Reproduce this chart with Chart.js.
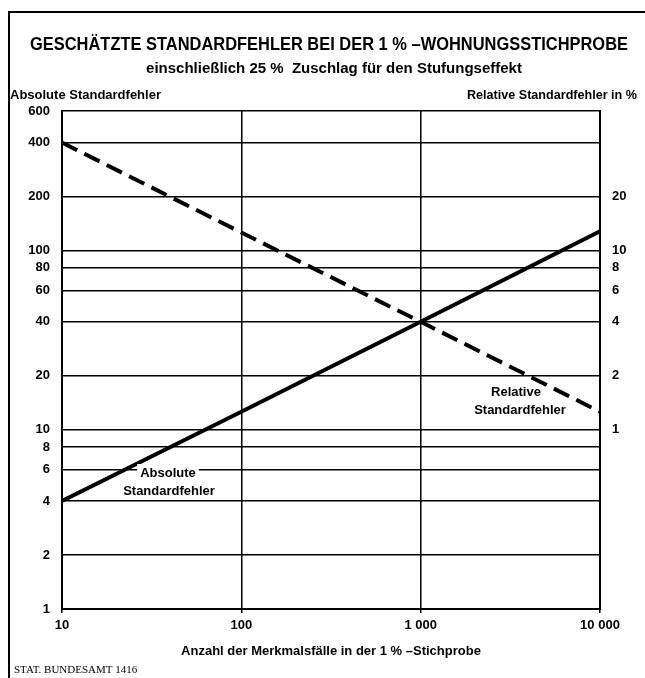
<!DOCTYPE html>
<html>
<head>
<meta charset="utf-8">
<script src="https://cdn.jsdelivr.net/npm/chart.js@4.4.1/dist/chart.umd.min.js"></script>
<style>
  html, body { margin: 0; padding: 0; background: #fff; }
  #wrap { width: 645px; height: 678px; }
</style>
</head>
<body>
<div id="wrap"><canvas id="chart" width="645" height="678"></canvas></div>
<script>
// data (log-log chart)
const sampleSizes = [10, 100, 1000, 10000];
const absoluteErr = [4, 12.6, 40, 128];        // left axis
const relativeErrPct = [40, 12.6, 4, 1.26];    // right axis, in %

const xTicks = [10, 100, 1000, 10000];
const xTickLabels = ['10', '100', '1 000', '10 000'];
const yTicks = [1, 2, 4, 6, 8, 10, 20, 40, 60, 80, 100, 200, 400, 600];
const y2Ticks = [1, 2, 4, 6, 8, 10, 20];

const FONT = '"Liberation Sans", Arial, sans-serif';

// squeeze text into a given width (the original uses a narrow font)
function fitText(ctx, text, x, y, width, size, align) {
    ctx.save();
    ctx.font = 'bold ' + size + 'px ' + FONT;
    const w = ctx.measureText(text).width;
    const s = Math.min(1, width / w);
    let left = x;
    if (align === 'center') left = x - w * s / 2;
    if (align === 'right') left = x - w * s;
    ctx.translate(left, y);
    ctx.scale(s, 1);
    ctx.textAlign = 'left';
    ctx.textBaseline = 'middle';
    ctx.fillText(text, 0, 0);
    ctx.restore();
    return w * s;
}

const decoration = {
    id: 'decoration',
    beforeDraw(chart) {
        const ctx = chart.ctx;
        ctx.save();
        ctx.fillStyle = '#fff';
        ctx.fillRect(0, 0, chart.width, chart.height);
        // outer frame (top + left)
        ctx.strokeStyle = '#000';
        ctx.lineWidth = 2;
        ctx.beginPath();
        ctx.moveTo(645, 12);
        ctx.lineTo(9, 12);
        ctx.lineTo(9, 678);
        ctx.stroke();
        ctx.fillStyle = '#000';
        fitText(ctx, 'GESCHÄTZTE STANDARDFEHLER BEI DER 1 % –WOHNUNGSSTICHPROBE', 329, 45, 598, 18, 'center');
        fitText(ctx, 'einschließlich 25 %  Zuschlag für den Stufungseffekt', 334, 69, 395, 15, 'center');
        fitText(ctx, 'Absolute Standardfehler', 10, 95, 152, 13, 'left');
        fitText(ctx, 'Relative Standardfehler in %', 637, 95, 170, 13, 'right');
        fitText(ctx, 'Anzahl der Merkmalsfälle in der 1 % –Stichprobe', 331, 651, 318, 13, 'center');
        ctx.font = '11px "Liberation Serif", serif';
        ctx.textBaseline = 'middle';
        ctx.fillText('STAT. BUNDESAMT 1416', 14, 670);
        ctx.restore();
    },
    afterDatasetsDraw(chart) {
        const ctx = chart.ctx;
        const a = chart.chartArea;
        ctx.save();
        // label for the solid line, knocks out the grid line behind it
        ctx.font = 'bold 13px ' + FONT;
        const w1 = ctx.measureText('Absolute').width;
        ctx.fillStyle = '#fff';
        ctx.fillRect(a.left + 106 - w1 / 2 - 3, 464, w1 + 6, 16);
        ctx.fillStyle = '#000';
        fitText(ctx, 'Absolute', a.left + 106, 473, 56, 13, 'center');
        fitText(ctx, 'Standardfehler', a.left + 107, 491, 104, 13, 'center');
        fitText(ctx, 'Relative', a.left + 454, 392, 63, 13, 'center');
        fitText(ctx, 'Standardfehler', a.left + 458, 410, 106, 13, 'center');
        ctx.restore();
    }
};

const tickFont = { family: FONT, size: 13, weight: 'bold' };

new Chart(document.getElementById('chart').getContext('2d'), {
    type: 'scatter',
    data: {
        datasets: [{
            label: 'Absolute Standardfehler',
            data: sampleSizes.map((n, i) => ({ x: n, y: absoluteErr[i] })),
            yAxisID: 'y',
            showLine: true,
            borderColor: '#000',
            borderWidth: 4,
            pointRadius: 0,
            tension: 0
        }, {
            label: 'Relative Standardfehler',
            data: sampleSizes.map((n, i) => ({ x: n, y: relativeErrPct[i] })),
            yAxisID: 'y2',
            showLine: true,
            borderColor: '#000',
            borderWidth: 4,
            borderDash: [17, 8],
            pointRadius: 0,
            tension: 0
        }]
    },
    options: {
        responsive: false,
        animation: false,
        layout: { padding: { top: 111, left: 0, right: 0, bottom: 0 } },
        plugins: {
            legend: { display: false },
            tooltip: { enabled: false }
        },
        scales: {
            x: {
                type: 'logarithmic',
                min: 10,
                max: 10000,
                afterBuildTicks: s => { s.ticks = xTicks.map(v => ({ value: v })); },
                afterFit: s => { s.height = 69; },
                ticks: {
                    color: '#000',
                    font: tickFont,
                    padding: 5,
                    maxRotation: 0,
                    autoSkip: false,
                    callback: (v) => xTickLabels[xTicks.indexOf(v)]
                },
                grid: { color: '#000', lineWidth: 1.5, tickLength: 4 },
                border: { color: '#000', width: 2 }
            },
            y: {
                type: 'logarithmic',
                position: 'left',
                min: 1,
                max: 600,
                afterBuildTicks: s => { s.ticks = yTicks.map(v => ({ value: v })); },
                afterFit: s => { s.width = 62; },
                ticks: {
                    color: '#000',
                    font: tickFont,
                    padding: 12,
                    autoSkip: false,
                    callback: v => String(v)
                },
                grid: { color: '#000', lineWidth: 1.5, drawTicks: false },
                border: { color: '#000', width: 2 }
            },
            y2: {
                type: 'logarithmic',
                position: 'right',
                min: 0.1,
                max: 60,
                afterBuildTicks: s => { s.ticks = y2Ticks.map(v => ({ value: v })); },
                afterFit: s => { s.width = 45; },
                ticks: {
                    color: '#000',
                    font: tickFont,
                    padding: 12,
                    autoSkip: false,
                    callback: v => String(v)
                },
                grid: { display: false, drawTicks: false },
                border: { color: '#000', width: 2 }
            }
        }
    },
    plugins: [decoration]
});
</script>
</body>
</html>
